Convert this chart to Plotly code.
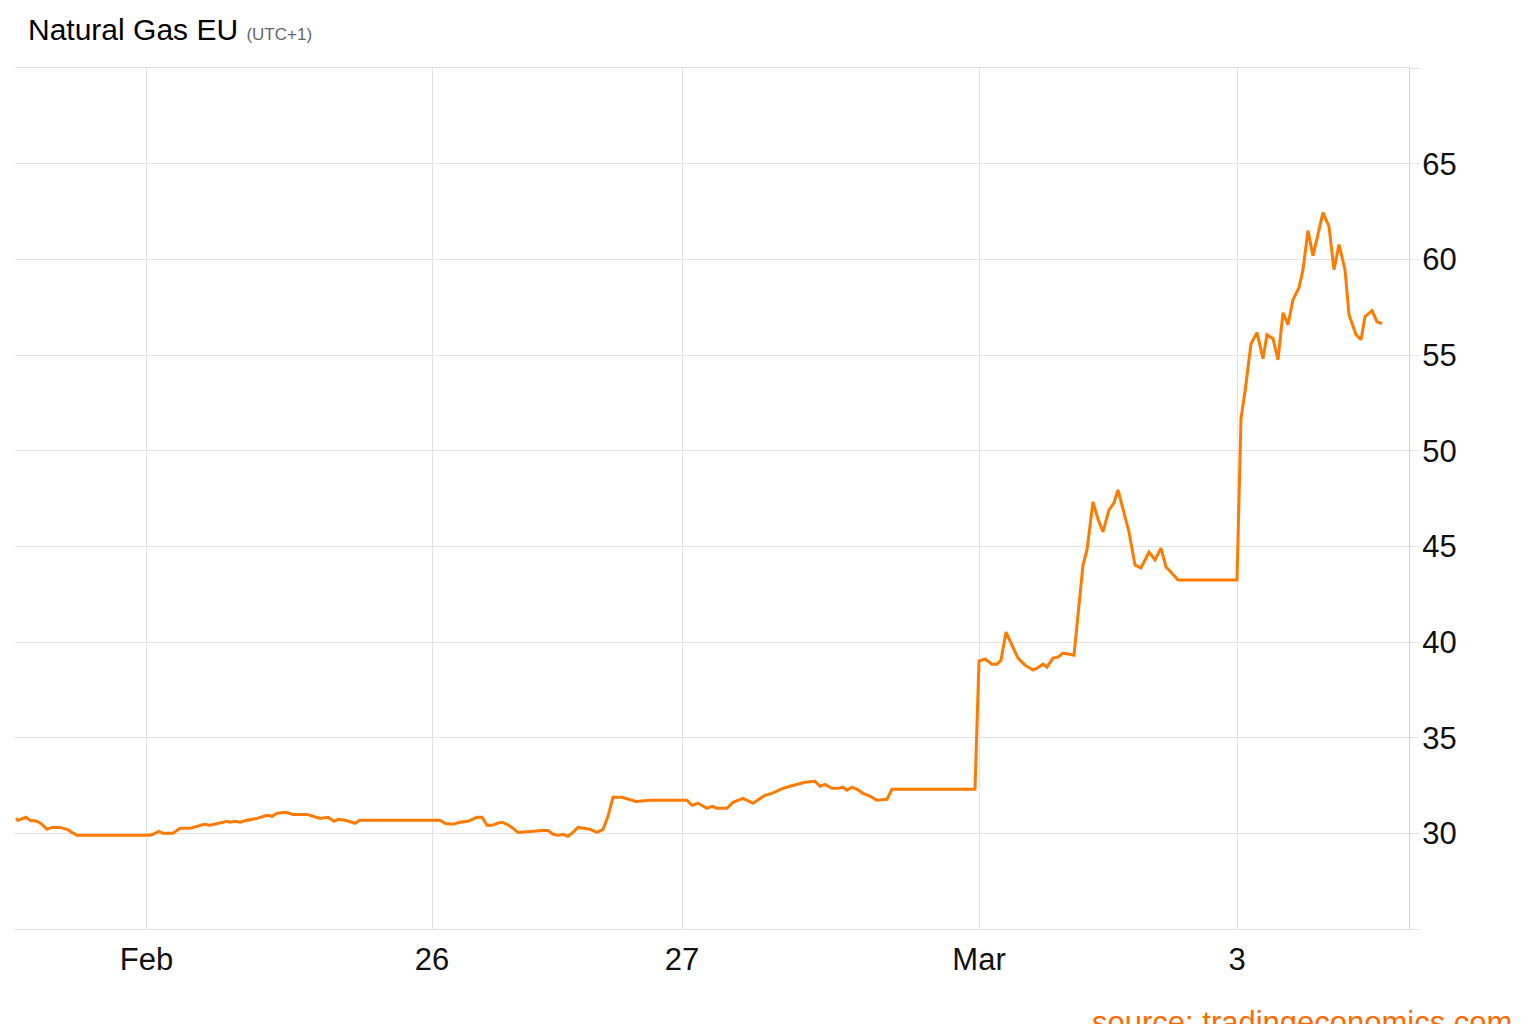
import plotly.graph_objects as go

# time index (trading-time steps) and price (EUR/MWh)
t = [1, 3, 11, 15, 22, 27, 32, 37, 45, 52, 57, 62, 135, 138, 144, 148, 158, 165, 175, 182,
     189, 195, 205, 212, 215, 220, 225, 232, 242, 252, 257, 262, 271, 278, 292, 298, 305, 313,
     319, 323, 330, 337, 340, 345, 425, 430, 438, 445, 453, 462, 467, 472, 477, 482, 487, 492,
     497, 503, 512, 518, 527, 533, 538, 543, 548, 553, 558, 563, 570, 575, 582, 588, 593, 598,
     607, 615, 621, 635,
     672, 677, 683, 692, 697, 702, 712, 718, 728, 738, 743, 750, 757, 768, 775, 783, 790, 800,
     805, 810, 817, 823, 828, 832, 837, 842, 848, 855, 862, 872, 877, 960,
     964, 970, 977, 982, 986, 991, 997, 1003, 1010, 1018, 1022, 1028, 1032, 1038, 1043, 1048,
     1059, 1068, 1072, 1078, 1083, 1088, 1094, 1099, 1103, 1109, 1114, 1120, 1126, 1134, 1140,
     1146, 1151, 1155, 1163, 1222,
     1226, 1230, 1236, 1242, 1248, 1252, 1258, 1263, 1268, 1273, 1278, 1284, 1288, 1293, 1298,
     1308, 1314, 1319, 1324, 1330, 1334, 1341, 1346, 1350, 1357, 1362, 1367]
price = [30.78, 30.68, 30.84, 30.68, 30.63, 30.47, 30.21, 30.31, 30.31, 30.21, 30.05, 29.90, 29.90,
         29.95, 30.10, 30.00, 30.00, 30.26, 30.26, 30.37, 30.47, 30.42, 30.52, 30.63, 30.58, 30.63,
         30.58, 30.68, 30.78, 30.94, 30.89, 31.05, 31.10, 30.99, 30.99, 30.89, 30.78, 30.84,
         30.63, 30.73, 30.68, 30.58, 30.52, 30.68, 30.68, 30.52, 30.47, 30.58, 30.63, 30.84, 30.84,
         30.42, 30.42, 30.52, 30.58, 30.47, 30.31, 30.05, 30.10, 30.10, 30.15, 30.15, 29.95, 29.90,
         29.95, 29.84, 30.05, 30.31, 30.26, 30.21, 30.05, 30.21, 30.89, 31.88, 31.88, 31.78, 31.67,
         31.73,
         31.73, 31.47, 31.57, 31.31, 31.41, 31.31, 31.31, 31.62, 31.83, 31.57, 31.73, 31.99, 32.09,
         32.35, 32.46, 32.56, 32.67, 32.72, 32.46, 32.56, 32.35, 32.35, 32.41, 32.25, 32.41, 32.30,
         32.09, 31.94, 31.73, 31.78, 32.30, 32.30,
         39.00, 39.11, 38.84, 38.84, 39.05, 40.52, 39.84, 39.16, 38.79, 38.53, 38.63, 38.84, 38.69,
         39.16, 39.21, 39.42, 39.31, 44.02, 44.81, 47.32, 46.43, 45.75, 46.90, 47.27, 47.95, 46.80,
         45.75, 44.02, 43.87, 44.70, 44.29, 44.91, 43.92, 43.71, 43.24, 43.24,
         51.67, 53.08, 55.59, 56.17, 54.81, 56.06, 55.85, 54.75, 57.21, 56.58, 57.89, 58.52, 59.46,
         61.50, 60.19, 62.44, 61.71, 59.46, 60.77, 59.46, 57.11, 56.06, 55.80, 57.00, 57.32, 56.74,
         56.64]

x_tick_vals = [131.5, 417, 667, 964, 1222]
x_tick_text = ["Feb", "26", "27", "Mar", "3"]
y_tick_vals = [25, 30, 35, 40, 45, 50, 55, 60, 65, 70]
y_tick_text = ["", "30", "35", "40", "45", "50", "55", "60", "65", ""]

FONT = "Liberation Sans, Arial, Helvetica, sans-serif"
GRID = "#e3e3e3"

fig = go.Figure()
fig.add_trace(go.Scatter(x=t, y=price, mode="lines",
                         line=dict(color="#ff7b00", width=3),
                         hoverinfo="skip", showlegend=False))

fig.update_layout(
    width=1536, height=1024,
    margin=dict(l=7, r=135, t=60, b=103),
    paper_bgcolor="white", plot_bgcolor="white",
    font=dict(family=FONT, size=31, color="#111111"),
    title=dict(text="Natural Gas EU <span style='font-size:17px;color:#666666'>(UTC+1)</span>",
               x=20 / 1536, xanchor="left", xref="container",
               y=1 - 21 / 1024, yanchor="middle", yref="container",
               font=dict(family=FONT, size=30, color="#000000")),
    xaxis=dict(range=[0, 1394], tickvals=x_tick_vals, ticktext=x_tick_text,
               showgrid=True, gridcolor=GRID, gridwidth=1, zeroline=False,
               showline=True, linecolor=GRID, mirror=True, ticks="",
               ticklabelstandoff=3, tickfont=dict(size=31, color="#111111")),
    yaxis=dict(range=[25, 70], side="right", tickvals=y_tick_vals, ticktext=y_tick_text,
               showgrid=True, gridcolor=GRID, gridwidth=1, zeroline=False,
               showline=True, linecolor="#d6d6d6", ticks="outside", ticklen=9,
               tickcolor=GRID, ticklabelstandoff=-3,
               tickfont=dict(size=31, color="#111111")),
    annotations=[dict(text="source: tradingeconomics.com", xref="paper", yref="paper",
                      x=(1514 - 15) / 1394, y=(929 - 1022) / 861,
                      xanchor="right", yanchor="middle", showarrow=False,
                      font=dict(family=FONT, size=31, color="#ff6a00"))],
)

fig.write_html("out.html")
